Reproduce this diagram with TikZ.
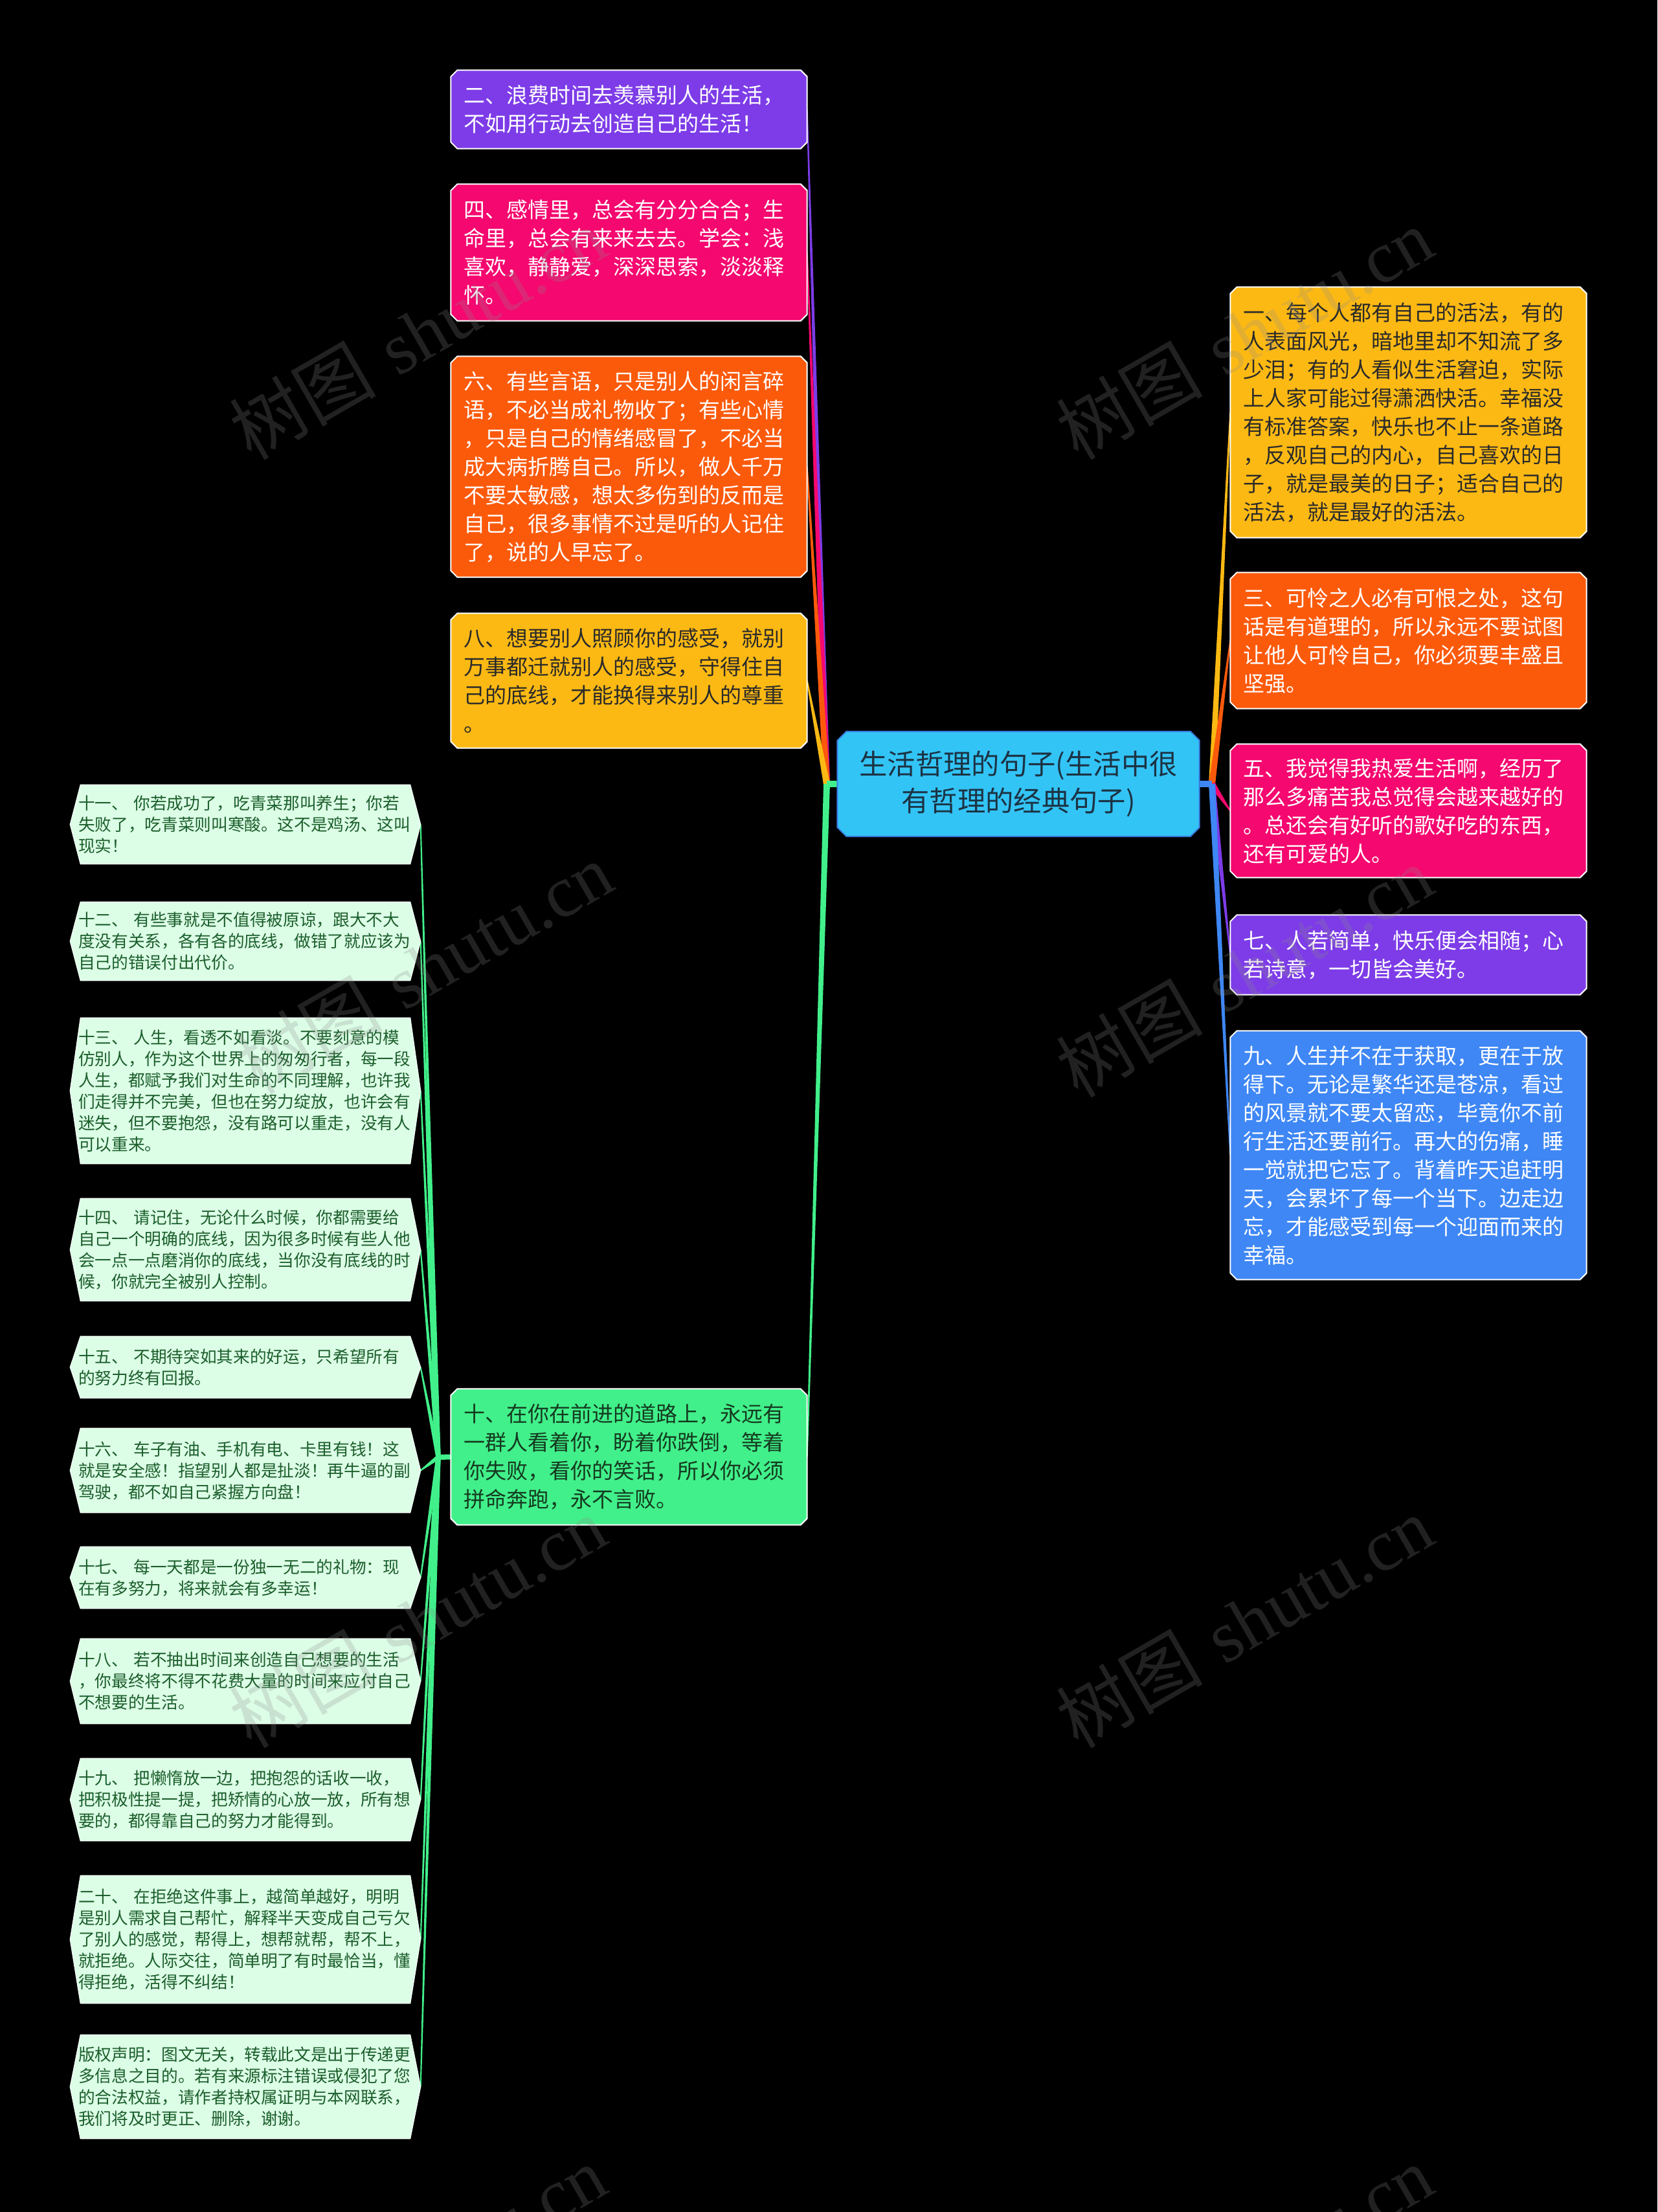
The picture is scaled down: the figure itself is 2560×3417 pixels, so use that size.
\documentclass[tikz,border=0pt]{standalone}
\usepackage{fontspec}
\newfontfamily\cjk{Noto Sans CJK SC}
\newfontfamily\wmserif{Liberation Serif}
\usetikzlibrary{calc}
\pgfdeclarelayer{bg}
\pgfdeclarelayer{fg}
\pgfsetlayers{bg,main,fg}
\definecolor{cpurple}{HTML}{7D3CE8}
\definecolor{cpink}{HTML}{F5086F}
\definecolor{corange}{HTML}{FC5A0B}
\definecolor{camber}{HTML}{FDB913}
\definecolor{cblue}{HTML}{3E87F5}
\definecolor{cgreen}{HTML}{41F08A}
\definecolor{croot}{HTML}{33C4F6}
\definecolor{crootline}{HTML}{3A7CE0}
\definecolor{cmint}{HTML}{DCFDE6}
\definecolor{cmintline}{HTML}{F2FFF6}
\definecolor{cdarkgreen}{HTML}{1B5E2B}
\definecolor{cdark}{HTML}{2A2A2A}
\definecolor{cgreentext}{HTML}{153A20}
\definecolor{croottext}{HTML}{1C3344}
\definecolor{cwm}{HTML}{8C8C8C}
\tikzset{
 big/.style={rectangle, inner xsep=5.7pt, inner ysep=0pt, minimum width=164.7pt, text width=153.3pt, align=left, font=\cjk\fontsize{9.9}{13.2}\selectfont},
 small/.style={rectangle, inner xsep=3.6pt, inner ysep=0pt, minimum width=162pt, text width=154.8pt, align=left, text=cdarkgreen, font=\cjk\fontsize{7.7}{9.9}\selectfont},
 rootnode/.style={rectangle, inner sep=0pt, minimum width=167.4pt, minimum height=48.3pt, text width=160pt, align=center, text=croottext, font=\cjk\fontsize{13}{17.1}\selectfont},
 wm/.style={rotate=30, text=cwm, text opacity=0.24, font=\fontsize{34}{40}\selectfont},
 hh/.style={minimum height=#1},
}
\newcommand\chambox[4]{\filldraw[fill=#2, draw=#3, line width=0.6pt] ($(#1.north west)+(#4,0)$) -- ($(#1.north east)+(-#4,0)$) -- ($(#1.north east)+(0,#4)$) -- ($(#1.south east)+(0,-#4)$) -- ($(#1.south east)+(-#4,0)$) -- ($(#1.south west)+(#4,0)$) -- ($(#1.south west)+(0,-#4)$) -- ($(#1.north west)+(0,#4)$) -- cycle;}
\newcommand\hexbox[1]{\filldraw[fill=cmint, draw=cmintline, line width=0.4pt] (#1.west) -- ($(#1.north west)+(16,0)$) -- ($(#1.north east)+(-16,0)$) -- (#1.east) -- ($(#1.south east)+(-16,0)$) -- ($(#1.south west)+(16,0)$) -- cycle;}
\newcommand\taper[4]{\fill[#3] ($(#1)!#4!90:(#2)$) -- ($(#2)!0.3pt!-90:(#1)$) -- ($(#2)!0.3pt!90:(#1)$) -- ($(#1)!#4!-90:(#2)$) -- cycle;}
\begin{document}
\begin{tikzpicture}[x=0.3pt,y=-0.3pt]
\useasboundingbox (0,0) rectangle (2560,3417);
% root
\node[rootnode] (root) at (1573,1211) {生活哲理的句子(生活中很\\有哲理的经典句子)};
\coordinate (JL) at (1277,1211);
\coordinate (JR) at (1872,1211);
\coordinate (J10) at (677,2251);
% left big nodes
\node[big, hh=36pt, text=white] (n2) at (971.5,169) {二、浪费时间去羡慕别人的生活，\\不如用行动去创造自己的生活！};
\node[big, hh=63pt, text=white] (n4) at (971.5,390) {四、感情里，总会有分分合合；生\\命里，总会有来来去去。学会：浅\\喜欢，静静爱，深深思索，淡淡释\\怀。};
\node[big, hh=102pt, text=white] (n6) at (971.5,721) {六、有些言语，只是别人的闲言碎\\语，不必当成礼物收了；有些心情\\，只是自己的情绪感冒了，不必当\\成大病折腾自己。所以，做人千万\\不要太敏感，想太多伤到的反而是\\自己，很多事情不过是听的人记住\\了，说的人早忘了。};
\node[big, hh=62.1pt, text=cdark] (n8) at (971.5,1051.5) {八、想要别人照顾你的感受，就别\\万事都迁就别人的感受，守得住自\\己的底线，才能换得来别人的尊重\\。};
\node[big, hh=62.7pt, text=cgreentext] (n10) at (971.5,2250.5) {十、在你在前进的道路上，永远有\\一群人看着你，盼着你跌倒，等着\\你失败，看你的笑话，所以你必须\\拼命奔跑，永不言败。};
% right big nodes
\node[big, hh=115.8pt, text=cdark] (n1) at (2175.5,637) {一、每个人都有自己的活法，有的\\人表面风光，暗地里却不知流了多\\少泪；有的人看似生活窘迫，实际\\上人家可能过得潇洒快活。幸福没\\有标准答案，快乐也不止一条道路\\，反观自己的内心，自己喜欢的日\\子，就是最美的日子；适合自己的\\活法，就是最好的活法。};
\node[big, hh=62.7pt, text=white] (n3) at (2175.5,989.5) {三、可怜之人必有可恨之处，这句\\话是有道理的，所以永远不要试图\\让他人可怜自己，你必须要丰盛且\\坚强。};
\node[big, hh=61.5pt, text=white] (n5) at (2175.5,1252.5) {五、我觉得我热爱生活啊，经历了\\那么多痛苦我总觉得会越来越好的\\。总还会有好听的歌好吃的东西，\\还有可爱的人。};
\node[big, hh=36.6pt, text=white] (n7) at (2175.5,1475) {七、人若简单，快乐便会相随；心\\若诗意，一切皆会美好。};
\node[big, hh=114.9pt, text=white] (n9) at (2175.5,1784.5) {九、人生并不在于获取，更在于放\\得下。无论是繁华还是苍凉，看过\\的风景就不要太留恋，毕竟你不前\\行生活还要前行。再大的伤痛，睡\\一觉就把它忘了。背着昨天追赶明\\天，会累坏了每一个当下。边走边\\忘，才能感受到每一个迎面而来的\\幸福。};
% small nodes
\node[small, hh=36.3pt] (s11) at (379,1273.5) {十一、 你若成功了，吃青菜那叫养生；你若\\失败了，吃青菜则叫寒酸。这不是鸡汤、这叫\\现实！};
\node[small, hh=36pt] (s12) at (379,1454) {十二、 有些事就是不值得被原谅，跟大不大\\度没有关系，各有各的底线，做错了就应该为\\自己的错误付出代价。};
\node[small, hh=67.2pt] (s13) at (379,1685) {十三、 人生，看透不如看淡。不要刻意的模\\仿别人，作为这个世界上的匆匆行者，每一段\\人生，都赋予我们对生命的不同理解，也许我\\们走得并不完美，但也在努力绽放，也许会有\\迷失，但不要抱怨，没有路可以重走，没有人\\可以重来。};
\node[small, hh=47.1pt] (s14) at (379,1930.5) {十四、 请记住，无论什么时候，你都需要给\\自己一个明确的底线，因为很多时候有些人他\\会一点一点磨消你的底线，当你没有底线的时\\候，你就完全被别人控制。};
\node[small, hh=28.2pt] (s15) at (379,2112) {十五、 不期待突如其来的好运，只希望所有\\的努力终有回报。};
\node[small, hh=38.7pt] (s16) at (379,2271.5) {十六、 车子有油、手机有电、卡里有钱！这\\就是安全感！指望别人都是扯淡！再牛逼的副\\驾驶，都不如自己紧握方向盘！};
\node[small, hh=28.2pt] (s17) at (379,2437) {十七、 每一天都是一份独一无二的礼物：现\\在有多努力，将来就会有多幸运！};
\node[small, hh=39pt] (s18) at (379,2597) {十八、 若不抽出时间来创造自己想要的生活\\，你最终将不得不花费大量的时间来应付自己\\不想要的生活。};
\node[small, hh=37.8pt] (s19) at (379,2780) {十九、 把懒惰放一边，把抱怨的话收一收，\\把积极性提一提，把矫情的心放一放，所有想\\要的，都得靠自己的努力才能得到。};
\node[small, hh=58.8pt] (s20) at (379,2996) {二十、 在拒绝这件事上，越简单越好，明明\\是别人需求自己帮忙，解释半天变成自己亏欠\\了别人的感觉，帮得上，想帮就帮，帮不上，\\就拒绝。人际交往，简单明了有时最恰当，懂\\得拒绝，活得不纠结！};
\node[small, hh=47.7pt] (scr) at (379,3223.5) {版权声明：图文无关，转载此文是出于传递更\\多信息之目的。若有来源标注错误或侵犯了您\\的合法权益，请作者持权属证明与本网联系，\\我们将及时更正、删除，谢谢。};
\begin{pgfonlayer}{bg}
\fill[black] (0,0) rectangle (2560,3417);
% connectors left
\taper{JL}{n2.east}{cpurple}{1.5pt}
\taper{JL}{n4.east}{cpink}{1.5pt}
\taper{JL}{n6.east}{corange}{1.5pt}
\taper{JL}{n8.east}{camber}{1.5pt}
\taper{JL}{n10.east}{cgreen}{1.5pt}
\draw[cgreen, line width=3pt] (root.west) -- (JL);
% connectors right
\taper{JR}{n1.west}{camber}{1.5pt}
\taper{JR}{n3.west}{corange}{1.5pt}
\taper{JR}{n5.west}{cpink}{1.5pt}
\taper{JR}{n7.west}{cpurple}{1.5pt}
\taper{JR}{n9.west}{cblue}{1.5pt}
\draw[cblue, line width=3pt] (root.east) -- (JR);
% connectors small
\foreach \s in {s11,s12,s13,s14,s15,s16,s17,s18,s19,s20,scr}{\taper{J10}{\s.east}{cgreen}{1.1pt}}
\draw[cgreen, line width=2.4pt] (n10.west) -- (J10);
% boxes
\chambox{root}{croot}{crootline}{14}
\chambox{n2}{cpurple}{white}{10}
\chambox{n4}{cpink}{white}{10}
\chambox{n6}{corange}{white}{10}
\chambox{n8}{camber}{white}{10}
\chambox{n10}{cgreen}{white}{10}
\chambox{n1}{camber}{white}{10}
\chambox{n3}{corange}{white}{10}
\chambox{n5}{cpink}{white}{10}
\chambox{n7}{cpurple}{white}{10}
\chambox{n9}{cblue}{white}{10}
\foreach \s in {s11,s12,s13,s14,s15,s16,s17,s18,s19,s20,scr}{\hexbox{\s}}
\end{pgfonlayer}
\begin{pgfonlayer}{fg}
\node[wm] (w1) at (645,515) {{\cjk 树图} {\wmserif shutu.cn}};
\node[wm] (w2) at (1922,515) {{\cjk 树图} {\wmserif shutu.cn}};
\node[wm] (w3) at (655,1495) {{\cjk 树图} {\wmserif shutu.cn}};
\node[wm] (w4) at (1922,1500) {{\cjk 树图} {\wmserif shutu.cn}};
\node[wm] (w5) at (645,2505) {{\cjk 树图} {\wmserif shutu.cn}};
\node[wm] (w6) at (1922,2505) {{\cjk 树图} {\wmserif shutu.cn}};
\node[wm] (w7) at (645,3508) {{\cjk 树图} {\wmserif shutu.cn}};
\node[wm] (w8) at (1922,3508) {{\cjk 树图} {\wmserif shutu.cn}};
\end{pgfonlayer}
\end{tikzpicture}
\end{document}
